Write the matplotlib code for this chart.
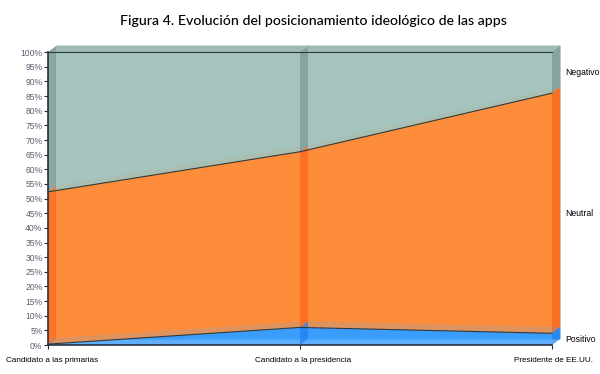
import numpy as np
import matplotlib.pyplot as plt
from matplotlib.patches import Polygon
from matplotlib.transforms import IdentityTransform

categorias = ["Candidato a las primarias", "Candidato a la presidencia", "Presidente de EE.UU."]
series = ["Positivo", "Neutral", "Negativo"]
positivo = [0.3, 6, 4]
neutral = [52, 60, 82]
negativo = [47.7, 34, 14]

caras = ["#3a9dfc", "#fd8c3b", "#a4c4bd"]
lados = ["#1f7fef", "#fb6418", "#7a9894"]
techos = ["#58b0f5", "#c9a582", "#9fbab4"]

DX, DY = 8, 6  # profundidad 3D en pixeles

fig = plt.figure(figsize=(6, 3.74), dpi=100)
ax = fig.add_axes([0.08, 0.0775, 0.84, 0.783])
ax.set_xlim(0, len(categorias) - 1)
ax.set_ylim(0, 100)

x = np.arange(len(categorias))
valores = np.array([positivo, neutral, negativo])
arriba = np.cumsum(valores, axis=0)
abajo = arriba - valores


def disp(xs, ys):
    return ax.transData.transform(np.column_stack([xs, ys]))


def poligono(pts, **kw):
    ax.add_patch(Polygon(pts, closed=True, transform=IdentityTransform(),
                         clip_on=False, **kw))


# pared trasera
for i in range(len(series)):
    b_low = disp(x, abajo[i]) + [DX, DY]
    b_up = disp(x, arriba[i]) + [DX, DY]
    poligono(np.vstack([b_low, b_up[::-1]]), facecolor=caras[i],
             edgecolor=techos[i], linewidth=1.0, zorder=1)

# techos de cada capa
for i in range(len(series)):
    f = disp(x, arriba[i])
    poligono(np.vstack([f, (f + [DX, DY])[::-1]]), facecolor=techos[i],
             edgecolor="none", alpha=0.9, zorder=2)

# cara frontal
ax.stackplot(x, valores, colors=caras, alpha=0.82, zorder=3,
             edgecolor="none")
for i in range(len(series)):
    ax.plot(x, arriba[i], color="#2f3b3a", linewidth=0.8, zorder=5, clip_on=False)

# paredes laterales en cada categoria
for i in range(len(series)):
    for j in range(len(categorias)):
        lo = disp([x[j]], [abajo[i][j]])[0]
        up = disp([x[j]], [arriba[i][j]])[0]
        poligono([lo, lo + [DX, DY], up + [DX, DY], up], facecolor=lados[i],
                 edgecolor="none", alpha=0.7, zorder=4)

ax.spines["top"].set_visible(False)
ax.spines["right"].set_visible(False)
for s in ["left", "bottom"]:
    ax.spines[s].set_color("#2a3040")
    ax.spines[s].set_linewidth(1.2)
    ax.spines[s].set_zorder(6)

ticks = np.arange(0, 101, 5)
ax.set_yticks(ticks)
ax.set_yticklabels([f"{t}%" for t in ticks], fontsize=6.2, color="#5a6070",
                   family="Liberation Sans")
ax.tick_params(axis="y", length=3, width=0.8, pad=1, color="#2a3040")
ax.set_xticks(x)
ax.set_xticklabels([])
ax.tick_params(axis="x", length=3, width=0.8, color="#2a3040")

# etiquetas de categorias
desplaz = [(-42, "left"), (3, "center"), (2, "center")]
for j, nombre in enumerate(categorias):
    dx, ha = desplaz[j]
    ax.annotate(nombre, xy=(x[j], 0), xytext=(dx, -15), textcoords="offset pixels",
                fontsize=5.9, va="center", ha=ha, family="Liberation Sans",
                annotation_clip=False)

# etiquetas de series a la derecha
for i, nombre in enumerate(series):
    medio = (abajo[i][-1] + arriba[i][-1]) / 2
    ax.annotate(nombre, xy=(x[-1], medio), xytext=(13, 0), textcoords="offset pixels",
                fontsize=6.2, va="center", ha="left", family="Liberation Sans",
                annotation_clip=False)

fig.text(0.522, 0.945, "Figura 4. Evolución del posicionamiento ideológico de las apps",
         ha="center", va="center", fontsize=10.2, family="Lato", fontweight="medium")

fig.savefig("out.png", dpi=100)
